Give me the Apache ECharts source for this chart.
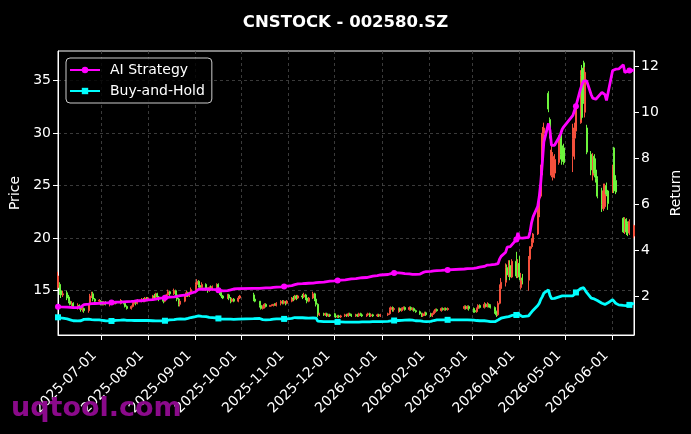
<!DOCTYPE html>
<html>
<head>
<meta charset="utf-8">
<script src="https://cdn.jsdelivr.net/npm/echarts@6/dist/echarts.min.js"></script>
<style>
  html, body { margin: 0; padding: 0; background: #000; }
  #box { width: 691px; height: 434px; }
</style>
</head>
<body>
<div id="box"></div>
<script>
// trading calendar (weekdays minus exchange holidays)
const firstDay = "2025-06-03";
const lastDay = "2026-06-15";
const holidays = [
  "2025-10-01", "2025-10-02", "2025-10-03", "2025-10-06", "2025-10-07", "2025-10-08",
  "2026-01-01", "2026-01-02",
  "2026-02-16", "2026-02-17", "2026-02-18", "2026-02-19", "2026-02-20", "2026-02-23",
  "2026-04-06", "2026-05-01", "2026-05-04", "2026-05-05"
];

// axis ticks
const monthTicks = [
  "2025-07-01", "2025-08-01", "2025-09-01", "2025-10-01", "2025-11-01", "2025-12-01",
  "2026-01-01", "2026-02-01", "2026-03-01", "2026-04-01", "2026-05-01", "2026-06-01"
];
const priceTicks = [15, 20, 25, 30, 35];
const returnTicks = [2, 4, 6, 8, 10, 12];

// daily candles [open, close, low, high], null = no bar
const candles = [
  // 2025-06
  [15.3,16.4,15.2,16.8],[15.6,14.9,14.6,15.8],[15.0,14.6,14.3,15.3],[14.6,14.7,14.4,15.0],
  [14.8,14.3,14.1,15.0],[14.4,14.0,13.8,14.6],[14.0,13.7,13.6,14.2],[13.7,13.8,13.5,14.0],[13.8,13.5,13.3,13.9],
  [13.4,13.6,13.2,13.8],[13.6,13.4,13.2,13.7],[13.4,13.2,13.0,13.5],[13.2,13.3,13.0,13.5],[13.3,13.1,12.9,13.4],
  [13.1,13.7,12.9,13.8],[13.8,14.5,13.7,14.7],[14.5,14.7,14.3,14.9],[14.7,14.2,14.0,14.9],[14.2,14.0,13.9,14.3],
  [14.0,14.1,13.7,14.2],
  // 2025-07
  [14.0,13.8,13.6,14.1],[13.8,13.7,13.6,14.0],[13.7,13.9,13.6,14.0],[13.9,13.7,13.6,14.0],
  [13.7,13.9,13.5,14.0],[13.9,14.0,13.8,14.1],[14.0,13.8,13.7,14.1],[13.8,13.9,13.7,14.0],[13.9,13.8,13.7,14.0],
  [13.8,14.0,13.7,14.2],[14.0,13.9,13.8,14.1],[13.9,13.8,13.7,14.0],[13.8,13.5,13.4,13.9],[13.5,13.3,13.2,13.6],
  [13.3,13.5,13.2,13.6],[13.5,13.8,13.4,13.9],[13.8,14.0,13.7,14.1],[14.0,13.8,13.6,14.1],[13.8,14.1,13.7,14.2],
  [14.1,14.2,13.9,14.3],[14.2,14.0,13.9,14.3],[14.0,14.3,13.9,14.4],[14.3,14.1,14.0,14.4],
  // 2025-08
  [14.1,14.3,14.0,14.4],
  [14.3,14.5,14.1,14.6],[14.5,14.4,14.2,14.7],[14.4,14.7,14.3,14.8],[14.7,14.4,14.2,14.8],[14.4,14.2,14.0,14.5],
  [14.2,14.0,13.8,14.3],[14.0,14.3,13.9,14.4],[14.3,14.6,14.2,14.7],[14.6,14.9,14.5,15.1],[14.9,14.7,14.5,15.0],
  [14.7,15.0,14.6,15.2],[15.0,14.6,14.4,15.1],[14.6,14.2,14.0,14.7],[14.2,13.7,13.5,14.3],[13.7,14.0,13.5,14.1],
  [14.0,14.5,13.9,14.6],[14.5,14.8,14.4,15.0],[14.8,14.5,14.4,14.9],[14.5,14.8,14.4,14.9],[14.8,15.1,14.7,15.3],
  // 2025-09
  [15.1,15.6,15.0,15.8],[15.6,15.9,15.4,16.1],[15.9,15.5,15.3,16.0],[15.5,15.3,15.1,15.7],[15.3,15.6,15.2,15.8],
  [15.6,15.2,15.0,15.7],[15.2,15.0,14.8,15.3],[15.0,15.3,14.9,15.4],[15.3,15.1,15.0,15.5],[15.1,15.4,15.0,15.5],
  [15.4,15.6,15.2,15.7],[15.6,15.1,14.9,15.7],[15.1,14.8,14.6,15.2],[14.8,14.5,14.3,14.9],[14.5,14.3,14.2,14.6],
  [14.3,14.6,14.2,14.7],[14.6,14.3,14.1,14.7],[14.3,14.0,13.8,14.4],[14.0,14.2,13.9,14.3],[14.2,14.0,13.9,14.3],
  [14.0,14.3,13.9,14.5],[14.3,14.5,14.2,14.6],
  // 2025-10
  [14.6,14.2,14.0,14.8],[14.2,14.0,13.9,14.3],
  [14.0,13.6,13.4,14.0],[13.6,13.3,13.2,13.7],[13.3,13.5,13.2,13.6],[13.5,13.7,13.3,13.8],[13.7,13.5,13.4,13.8],
  [13.5,13.6,13.5,13.6],[13.6,13.6,13.5,13.7],[13.6,13.7,13.5,13.7],[13.7,13.6,13.6,13.8],[13.6,13.8,13.5,13.9],
  [13.8,14.0,13.6,14.1],[14.0,13.8,13.7,14.1],[13.8,14.0,13.7,14.1],[14.0,13.8,13.6,14.0],[13.8,14.0,13.7,14.1],
  // 2025-11
  [14.0,14.3,13.9,14.4],[14.3,14.2,14.0,14.5],[14.2,14.5,14.1,14.6],[14.5,14.3,14.1,14.6],[14.3,14.5,14.2,14.6],
  [14.5,14.4,14.2,14.7],[14.4,14.6,14.3,14.8],[14.6,14.3,14.1,14.7],[14.3,14.0,13.8,14.4],[14.0,14.3,13.9,14.4],
  [14.3,14.7,14.2,14.9],[14.7,14.2,14.0,14.8],[14.2,13.7,13.5,14.3],[13.7,12.7,12.5,13.8],[12.7,12.8,12.6,12.9],
  [12.8,12.7,12.6,12.9],[12.7,12.8,12.6,12.9],[12.8,12.6,12.5,12.9],[12.6,12.7,12.5,12.8],[12.7,12.6,12.5,12.8],
  // 2025-12
  [12.8,12.6,12.5,12.9],[12.6,12.5,12.4,12.7],[12.5,12.6,12.4,12.7],[12.6,12.5,12.4,12.7],[12.5,12.6,12.4,12.7],
  [12.6,12.7,12.5,12.8],[12.7,12.6,12.5,12.8],[12.6,12.8,12.5,12.9],[12.8,12.7,12.6,12.9],[12.7,12.6,12.5,12.8],
  [12.6,12.7,12.5,12.8],[12.7,12.6,12.5,12.8],[12.6,12.8,12.5,12.9],[12.8,12.7,12.6,12.9],[12.7,12.6,12.5,12.8],
  [12.6,12.7,12.5,12.8],[12.7,12.8,12.6,12.9],[12.8,12.6,12.5,12.9],[12.6,12.7,12.5,12.8],[12.7,12.6,12.5,12.8],
  [12.6,12.7,12.5,12.8],[12.7,12.6,12.5,12.8],[12.6,12.7,12.5,12.8],
  // 2026-01
  [12.7,12.8,12.6,12.9],[12.8,13.2,12.7,13.4],[13.2,13.4,13.0,13.5],[13.4,13.2,13.0,13.5],[13.2,13.3,13.0,13.4],
  [13.0,13.3,12.9,13.4],[13.3,13.1,13.0,13.4],[13.1,13.3,13.0,13.4],[13.3,13.4,13.2,13.5],[13.4,13.2,13.1,13.5],
  [13.2,13.4,13.1,13.5],[13.4,13.2,13.1,13.5],[13.2,13.3,13.1,13.4],[13.3,13.1,13.0,13.4],[13.1,13.0,12.9,13.2],
  [13.0,12.8,12.7,13.1],[12.8,12.6,12.5,12.9],[12.6,12.8,12.5,12.9],[12.8,12.9,12.6,13.0],[12.9,12.7,12.6,13.0],
  // 2026-02
  [12.8,12.6,12.5,12.9],[12.6,12.8,12.5,12.9],[12.8,13.0,12.7,13.1],[13.0,13.2,12.9,13.3],[13.2,13.1,13.0,13.3],
  [13.1,13.3,13.0,13.4],[13.3,13.2,13.1,13.4],[13.2,13.3,13.1,13.4],[13.3,13.2,13.1,13.4],[13.2,13.3,13.1,13.4],
  [13.3,13.5,13.2,13.6],[13.5,13.3,13.2,13.6],[13.3,13.5,13.2,13.6],[13.5,13.3,13.1,13.6],
  // 2026-03
  [13.3,13.1,12.9,13.4],[13.1,13.0,12.9,13.2],[13.0,13.3,12.9,13.4],[13.3,13.6,13.2,13.7],[13.6,13.4,13.3,13.7],
  [13.4,13.7,13.3,13.9],[13.7,13.5,13.4,13.8],[13.5,13.7,13.4,13.9],[13.7,13.6,13.4,13.8],[13.6,13.4,13.3,13.7],
  [13.4,13.0,12.8,13.5],[13.0,12.7,12.5,13.1],[12.7,13.8,12.6,14.0],[13.8,15.2,13.7,15.6],[15.2,15.8,15.0,16.2],
  [15.8,17.2,15.4,17.6],[17.2,16.5,16.0,17.5],[16.5,17.4,16.3,17.9],[17.4,16.3,16.0,17.9],[16.3,17.8,16.2,18.0],
  [17.8,16.4,16.2,18.7],[16.4,17.6,16.2,18.0],
  // 2026-04
  [17.6,16.3,16.0,18.3],[15.3,16.2,15.1,16.7],[16.2,16.0,15.6,16.6],
  [16.0,18.0,15.0,18.3],[18.0,19.2,17.6,19.2],[19.2,19.6,19.0,20.0],[19.6,20.4,19.2,20.5],
  [20.4,22.3,20.3,23.0],[22.3,24.0,22.0,24.9],[24.0,26.5,23.8,27.0],[26.5,30.0,26.0,30.6],[30.0,30.5,29.2,31.0],
  [33.8,32.3,32.0,34.0],[31.3,29.8,29.5,31.5],[26.0,28.4,25.8,28.9],[25.8,27.8,25.5,28.2],[26.2,27.5,25.7,28.0],
  [27.2,29.5,27.0,29.8],[29.5,28.0,27.5,30.0],[28.8,27.3,27.0,30.3],[28.6,27.2,27.0,29.0],
  // 2026-05
  [27.8,29.5,26.3,30.9],[29.5,30.5,27.5,31.0],[30.2,32.5,29.5,32.7],
  [31.0,35.5,30.9,36.0],[36.2,31.5,31.3,36.5],[36.7,33.0,32.8,36.9],[32.0,35.8,31.5,36.3],[30.5,28.2,28.0,30.8],
  [28.0,26.5,26.0,28.3],[26.0,27.8,25.5,28.1],[27.8,26.2,25.8,28.0],[26.5,25.7,25.3,27.6],[25.7,24.0,23.8,25.9],
  [24.5,23.2,22.5,24.8],[22.8,24.5,22.6,25.2],[23.0,25.0,22.8,25.2],[25.0,24.2,24.0,25.3],[24.5,23.3,22.7,24.6],
  // 2026-06
  [24.4,26.8,24.3,27.0],[28.6,24.5,24.3,28.7],[25.5,24.4,24.2,26.0],null,null,
  [21.9,20.6,20.5,22.0],[20.6,21.8,20.4,22.0],[21.8,20.6,20.3,21.9],[21.4,20.5,20.2,21.6],[20.5,21.6,20.3,21.8],
  [20.2,21.2,20.0,21.3]
];

// cumulative return, one value per trading day
const aiReturn = [
  1.53,1.53,1.52,1.52, 1.51,1.50,1.50,1.49,1.49, 1.49,1.50,1.52,1.56,1.62, 1.64,1.65,1.66,1.67,1.67, 1.68,
  1.68,1.69,1.69,1.70, 1.70,1.71,1.72,1.72,1.73, 1.73,1.73,1.74,1.75,1.75, 1.76,1.77,1.77,1.78,1.79, 1.79,1.80,1.81,1.82,
  1.83, 1.84,1.85,1.86,1.87,1.89, 1.91,1.92,1.93,1.94,1.95, 1.96,1.97,1.98,1.99,2.01, 2.03,2.05,2.07,2.09,2.12,
  2.18,2.25,2.29,2.30,2.29, 2.30,2.28,2.29,2.29,2.28, 2.27,2.25,2.24,2.23,2.22, 2.23,2.24,2.26,2.28,2.30, 2.32,2.33,
  2.33,2.33, 2.33,2.33,2.34,2.34,2.35, 2.35,2.36,2.37,2.38,2.38, 2.39,2.40,2.41,2.42,2.43,
  2.45,2.47,2.49,2.51,2.52, 2.53,2.53,2.54,2.55,2.55, 2.56,2.57,2.58,2.58,2.59, 2.60,2.61,2.62,2.63,2.64,
  2.65,2.66,2.67,2.68,2.69, 2.70,2.71,2.72,2.73,2.74, 2.75,2.76,2.77,2.78,2.79, 2.80,2.81,2.83,2.85,2.86, 2.88,2.89,2.91,
  2.93,2.95,2.97,2.99,3.00, 3.00,3.00,2.99,2.98,2.97, 2.96,2.95,2.94,2.94,2.94, 2.95,2.98,3.02,3.05,3.06,
  3.07,3.08,3.09,3.09,3.10, 3.11,3.11,3.12,3.12,3.13, 3.17,3.18,3.19,3.20,
  3.20,3.21,3.22,3.23,3.25, 3.28,3.31,3.34,3.35,3.35, 3.37,3.39,3.40,3.60,3.72, 3.90,4.12,4.14,4.14,4.15, 4.45,4.74,
  4.52,4.50,4.51, 4.55,4.80,5.20,5.45, 5.90,6.32,6.95,7.80,8.70, 9.50,9.20,8.55,8.50,8.55, 8.90,9.05,9.25,9.35,
  9.85,10.05,10.25, 11.00,11.20,11.35,11.40,11.35, 10.75,10.60,10.55,10.55,10.60, 10.85,10.82,10.75,10.50,10.45,
  11.80,11.86,11.86,11.86,11.87, 12.05,11.72,11.75,11.78,11.80, 11.82
];
const bhReturn = [
  1.07,1.06,1.04,1.02, 1.00,0.98,0.96,0.94,0.92, 0.91,0.91,0.92,0.95,0.98, 0.99,0.98,0.97,0.96,0.96, 0.96,
  0.95,0.94,0.93,0.92, 0.91,0.91,0.92,0.93,0.94, 0.95,0.96,0.96,0.95,0.94, 0.94,0.93,0.93,0.94,0.94, 0.93,0.93,0.93,0.93,
  0.93, 0.92,0.92,0.91,0.91,0.91, 0.92,0.92,0.93,0.94,0.96, 0.97,0.98,0.99,0.99,1.00, 0.99,1.00,1.02,1.04,1.06,
  1.10,1.13,1.13,1.12,1.11, 1.10,1.08,1.07,1.06,1.06, 1.04,1.02,1.00,0.99,0.99, 0.99,0.99,0.99,0.98,0.98, 0.99,0.99,
  1.01,1.03, 1.02,1.00,0.97,0.96,0.96, 0.97,0.98,0.99,0.99,1.00, 1.00,0.99,1.00,1.00,1.00,
  1.02,1.04,1.06,1.06,1.05, 1.05,1.04,1.04,1.03,1.03, 1.04,1.04,1.03,0.90,0.88, 0.88,0.87,0.88,0.88,0.88,
  0.88,0.88,0.87,0.87,0.87, 0.86,0.86,0.86,0.86,0.86, 0.86,0.86,0.86,0.86,0.87, 0.87,0.87,0.87,0.88,0.88, 0.88,0.88,0.88,
  0.89,0.90,0.91,0.92,0.93, 0.93,0.94,0.94,0.95,0.95, 0.96,0.96,0.95,0.93,0.92, 0.91,0.90,0.89,0.88,0.88,
  0.89,0.91,0.93,0.95,0.96, 0.96,0.96,0.96,0.96,0.96, 0.96,0.96,0.96,0.95,
  0.95,0.94,0.93,0.93,0.92, 0.92,0.91,0.90,0.89,0.88, 0.88,0.90,0.95,0.99,1.03, 1.08,1.10,1.10,1.12,1.15, 1.17,1.27,
  1.18,1.10,1.10, 1.13,1.22,1.30,1.38, 1.58,1.68,1.85,1.97,2.12, 2.26,2.02,1.88,1.86,1.89, 1.96,1.98,2.00,2.04,
  2.00,2.08,2.15, 2.32,2.33,2.36,2.38,2.15, 1.90,1.89,1.87,1.85,1.80, 1.68,1.61,1.63,1.67,1.70,
  1.84,1.76,1.68,1.64,1.61, 1.59,1.58,1.58,1.59,1.61, 1.68
];

function dayKey(t) {
  return echarts.time.format(t, "{yyyy}-{MM}-{dd}", false);
}
function toTime(s) {
  return new Date(s + "T00:00:00").getTime();
}
function tradingDays(from, to, off) {
  let days = [],
    d = new Date(from + "T00:00:00"),
    end = new Date(to + "T00:00:00");
  while (d <= end) {
    let wd = d.getDay();
    if (wd !== 0 && wd !== 6 && off.indexOf(dayKey(d.getTime())) < 0) days.push(d.getTime());
    d.setDate(d.getDate() + 1);
  }
  return days;
}

let days = tradingDays(firstDay, lastDay, holidays);
if (days.length !== candles.length || days.length !== aiReturn.length || days.length !== bhReturn.length) {
  console.error("length mismatch", days.length, candles.length, aiReturn.length, bhReturn.length);
}

let candleData = [];
days.forEach((t, i) => {
  if (candles[i]) candleData.push([t].concat(candles[i]));
});
// matplotlib markevery style: a marker every 25 points
function lineData(vals, sym) {
  return days.map((t, i) => ({ value: [t, vals[i]], symbol: i % 25 === 0 ? sym : "none" }));
}

let tickTimes = monthTicks.map(toTime);
let gridLine = { show: true, lineStyle: { color: "#4a4a4a", type: [3, 3], width: 0.8 } };
let white = { color: "#fff" };
let RED = "#f5503c", GREEN = "#6cf43c";

let chart = echarts.init(document.getElementById("box"), null, { renderer: "canvas" });
let option = {
  animation: false,
  backgroundColor: "#000",
  textStyle: { fontFamily: "DejaVu Sans" },
  title: {
    text: "CNSTOCK - 002580.SZ",
    left: "center",
    top: 9,
    textStyle: { color: "#fff", fontSize: 16.5, fontWeight: "bold", fontFamily: "DejaVu Sans" }
  },
  legend: {
    data: ["AI Strategy", "Buy-and-Hold"],
    orient: "vertical",
    left: 66,
    top: 58,
    backgroundColor: "rgba(0,0,0,0.8)",
    borderColor: "#cccccc",
    borderWidth: 1,
    borderRadius: 4,
    padding: [5, 7, 5, 3],
    itemGap: 7,
    itemWidth: 30,
    itemHeight: 8,
    textStyle: { color: "#fff", fontSize: 14, fontFamily: "DejaVu Sans", padding: [0, 0, 0, 5] }
  },
  grid: {
    left: 58, right: 57, top: 51, bottom: 99,
    outerBoundsMode: "none",
    containLabel: false,
    show: true, borderColor: "#fff", borderWidth: 1, backgroundColor: "#000"
  },
  xAxis: {
    // timestamps on a plain value axis, ticks at month starts
    type: "value",
    min: toTime(firstDay),
    max: toTime(lastDay),
    scale: true,
    axisLine: { show: true, lineStyle: white },
    axisTick: { show: true, customValues: tickTimes, length: 5, lineStyle: white },
    axisLabel: {
      customValues: tickTimes,
      rotate: 45,
      color: "#fff",
      fontSize: 14,
      margin: 12,
      padding: [0, 9, 0, 0],
      formatter: v => dayKey(v)
    },
    splitLine: gridLine
  },
  yAxis: [
    {
      type: "value",
      position: "left",
      min: 10.78,
      max: 37.83,
      name: "Price",
      nameLocation: "middle",
      nameGap: 34,
      nameTextStyle: { color: "#fff", fontSize: 14 },
      axisLine: { show: true, lineStyle: white },
      axisTick: { show: true, customValues: priceTicks, length: 5, lineStyle: white },
      axisLabel: { customValues: priceTicks, color: "#fff", fontSize: 14, margin: 7 },
      splitLine: gridLine
    },
    {
      type: "value",
      position: "right",
      min: 0.30,
      max: 12.65,
      name: "Return",
      nameLocation: "middle",
      nameGap: 33,
      nameTextStyle: { color: "#fff", fontSize: 14 },
      axisLine: { show: true, lineStyle: white },
      axisTick: { show: true, customValues: returnTicks, length: 5, lineStyle: white },
      axisLabel: { customValues: returnTicks, color: "#fff", fontSize: 14, margin: 7 },
      splitLine: { show: false }
    }
  ],
  series: [
    {
      type: "candlestick",
      name: "Price",
      yAxisIndex: 0,
      data: candleData,
      barWidth: 1.5,
      itemStyle: { color: RED, color0: GREEN, borderColor: RED, borderColor0: GREEN, borderWidth: 1 },
      z: 2
    },
    {
      type: "line",
      name: "AI Strategy",
      yAxisIndex: 1,
      data: lineData(aiReturn, "circle"),
      symbol: "circle",
      symbolSize: 6,
      lineStyle: { color: "#ff00ff", width: 2.8 },
      itemStyle: { color: "#ff00ff" },
      z: 4
    },
    {
      type: "line",
      name: "Buy-and-Hold",
      yAxisIndex: 1,
      data: lineData(bhReturn, "rect"),
      symbol: "rect",
      symbolSize: 6,
      lineStyle: { color: "#00ffff", width: 2.8 },
      itemStyle: { color: "#00ffff" },
      z: 3
    }
  ],
  graphic: [
    {
      type: "text",
      left: 11,
      top: 395,
      z: 100,
      style: { text: "uqtool.com", fill: "#8b0a8b", font: "bold 27px 'DejaVu Sans'" }
    }
  ]
};
chart.setOption(option);
</script>
</body>
</html>
